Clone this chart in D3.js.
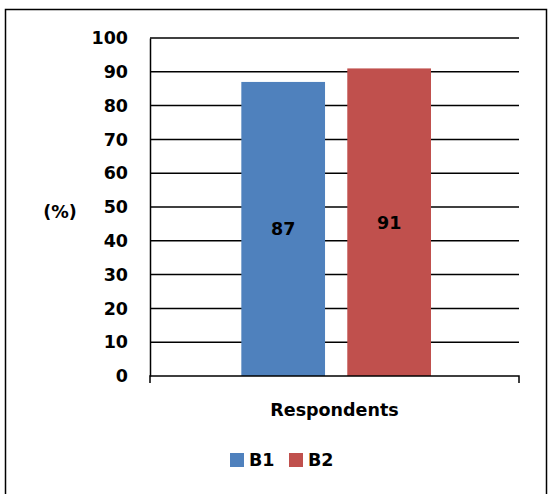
<!DOCTYPE html>
<html>
<head>
<meta charset="utf-8">
<script src="https://cdn.jsdelivr.net/npm/d3@7"></script>
<style>
  body { margin: 0; background: #fff; }
  svg text { font-family: "DejaVu Sans", sans-serif; font-weight: bold; fill: #000; }
</style>
</head>
<body>
<svg id="chart" width="550" height="494"></svg>
<script>
const categories = ["Respondents"];
const seriesNames = ["B1", "B2"];
const seriesValues = [87, 91];
const seriesColors = ["#4F81BD", "#C0504D"];
const yTicks = [0, 10, 20, 30, 40, 50, 60, 70, 80, 90, 100];

const FONT = 17.5;
const svg = d3.select("#chart");

// outer frame
svg.append("rect")
  .attr("x", 5.5).attr("y", 9.5)
  .attr("width", 541).attr("height", 495)
  .attr("fill", "none").attr("stroke", "#000").attr("stroke-width", 1.5);

const plot = { left: 150, right: 519, top: 38, bottom: 376 };

const y = d3.scaleLinear().domain([0, 100]).range([plot.bottom, plot.top]);
const x = d3.scaleBand().domain(categories).range([plot.left, plot.right]);
const inner = d3.scaleBand().domain(seriesNames)
  .range([x.bandwidth() * 0.2475, x.bandwidth() * 0.7615]).paddingInner(0.21);

// horizontal gridlines
svg.append("g").selectAll("line").data(yTicks.filter(d => d > 0)).join("line")
  .attr("x1", plot.left).attr("x2", plot.right)
  .attr("y1", d => y(d)).attr("y2", d => y(d))
  .attr("stroke", "#000").attr("stroke-width", 1.5);

// bars
const g = svg.append("g").attr("transform", `translate(${x(categories[0])},0)`);
g.selectAll("rect").data(seriesValues).join("rect")
  .attr("x", (d, i) => inner(seriesNames[i]))
  .attr("width", inner.bandwidth())
  .attr("y", d => y(d))
  .attr("height", d => y(0) - y(d))
  .attr("fill", (d, i) => seriesColors[i]);

// value labels centred in each bar
g.selectAll("text").data(seriesValues).join("text")
  .attr("x", (d, i) => inner(seriesNames[i]) + inner.bandwidth() / 2)
  .attr("y", d => (y(d) + y(0)) / 2)
  .attr("dy", "0.36em")
  .attr("text-anchor", "middle")
  .attr("font-size", FONT)
  .text(d => d);

// y axis
const yAxis = svg.append("g").attr("transform", `translate(${plot.left},0)`)
  .call(d3.axisLeft(y).tickValues(yTicks).tickSize(0).tickPadding(22));
yAxis.select(".domain").attr("stroke", "#000").attr("stroke-width", 1.5);
yAxis.selectAll("text").attr("font-size", FONT)
  .style("font-family", "'DejaVu Sans', sans-serif").style("font-weight", "bold");

// x axis
const xAxis = svg.append("g").attr("transform", `translate(0,${plot.bottom})`)
  .call(d3.axisBottom(x).tickSize(0).tickFormat(""));
xAxis.select(".domain").attr("d", `M${plot.left},7V0H${plot.right}V7`)
  .attr("stroke", "#000").attr("stroke-width", 1.5).attr("fill", "none");

svg.append("text")
  .attr("x", x(categories[0]) + x.bandwidth() / 2).attr("y", 416)
  .attr("text-anchor", "middle").attr("font-size", FONT)
  .text(categories[0]);

svg.append("text")
  .attr("x", 60).attr("y", 212).attr("dy", "0.36em")
  .attr("text-anchor", "middle").attr("font-size", FONT)
  .text("(%)");

// legend
const legend = svg.append("g");
const legendX = [230, 289];
seriesNames.forEach((name, i) => {
  legend.append("rect")
    .attr("x", legendX[i]).attr("y", 453).attr("width", 14).attr("height", 14)
    .attr("fill", seriesColors[i]);
  legend.append("text")
    .attr("x", legendX[i] + 19).attr("y", 460).attr("dy", "0.36em")
    .attr("font-size", FONT).text(name);
});
</script>
</body>
</html>
